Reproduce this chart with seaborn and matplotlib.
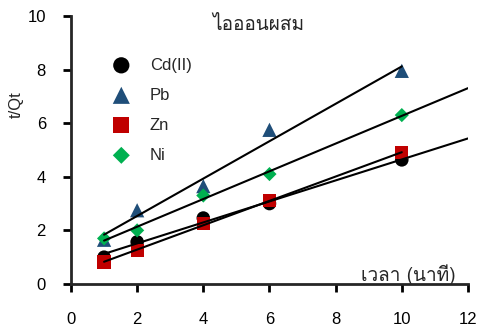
import numpy as np
import pandas as pd
import matplotlib
matplotlib.use("Agg")
import matplotlib.pyplot as plt
import seaborn as sns
from matplotlib import font_manager, ft2font

# data
times = [1, 2, 4, 6, 10]
cd = [1.0, 1.57, 2.46, 3.0, 4.63]
pb = [1.65, 2.75, 3.65, 5.75, 7.95]
zn = [0.82, 1.25, 2.25, 3.1, 4.9]
ni = [1.7, 2.0, 3.3, 4.1, 6.3]
ions = ["Cd(II)", "Pb", "Zn", "Ni"]
fit_end = {"Cd(II)": 12, "Pb": 10, "Zn": 10, "Ni": 12}

title = "ไอออนผสม"
xlabel = "เวลา (นาที)"
ylabel = "t/Qt"


def thai_font():
    # find any installed font that has Thai glyphs
    for f in font_manager.fontManager.ttflist:
        try:
            ft = ft2font.FT2Font(f.fname)
            if ft.get_char_index(0x0E44):
                return f.name
        except Exception:
            pass
    return "DejaVu Sans"


sns.set_theme(style="ticks")
plt.rcParams["font.family"] = ["Liberation Sans", "DejaVu Sans"]
tfont = thai_font()

df = pd.DataFrame({"t": times * 4,
                   "y": cd + pb + zn + ni,
                   "ion": sum([[n] * len(times) for n in ions], [])})

palette = {"Cd(II)": "black", "Pb": "#1F4E79", "Zn": "#C00000", "Ni": "#00B050"}
markers = {"Cd(II)": "o", "Pb": "^", "Zn": "s", "Ni": "D"}
sizes = {"Cd(II)": 95, "Pb": 105, "Zn": 90, "Ni": 52}

fig = plt.figure(figsize=(4.78, 3.31), dpi=100)
ax = fig.add_axes([0.1485, 0.142, 0.8305, 0.81])

for ion in ions:
    d = df[df.ion == ion]
    ax.scatter(d.t, d.y, marker=markers[ion], s=sizes[ion], color=palette[ion],
               edgecolors="none", label=ion, zorder=3)

for ion in ions:
    d = df[df.ion == ion]
    k, b = np.polyfit(d.t, d.y, 1)
    xs = np.array([1, fit_end[ion]])
    sns.lineplot(x=xs, y=k * xs + b, color="black", lw=1.5, ax=ax, zorder=4)

ax.set_xlim(0, 12)
ax.set_ylim(0, 10)
ax.set_xticks(range(0, 13, 2))
ax.set_yticks(range(0, 11, 2))
for s in ["top", "right"]:
    ax.spines[s].set_visible(False)
for s in ["left", "bottom"]:
    ax.spines[s].set_linewidth(2)
ax.tick_params(axis="both", direction="out", length=6, width=2, labelsize=12,
               colors="black")
ax.tick_params(axis="x", pad=14)
ax.tick_params(axis="y", pad=12)

ax.text(-0.138, 0.668, ylabel, transform=ax.transAxes, rotation=90,
        ha="center", va="center", fontsize=12)
ax.text(0.471, 0.966, title, transform=ax.transAxes, ha="center", va="center",
        fontsize=13.7, family=[tfont, "DejaVu Sans"])
ax.text(0.97, 0.034, xlabel, transform=ax.transAxes, ha="right", va="center",
        fontsize=13.7, family=[tfont, "DejaVu Sans"])

ax.legend(loc="upper left", bbox_to_anchor=(0.047, 0.9), frameon=False,
          fontsize=12, handletextpad=0.7, labelspacing=0.9, markerscale=1.2)

fig.savefig("out.png", dpi=100)
